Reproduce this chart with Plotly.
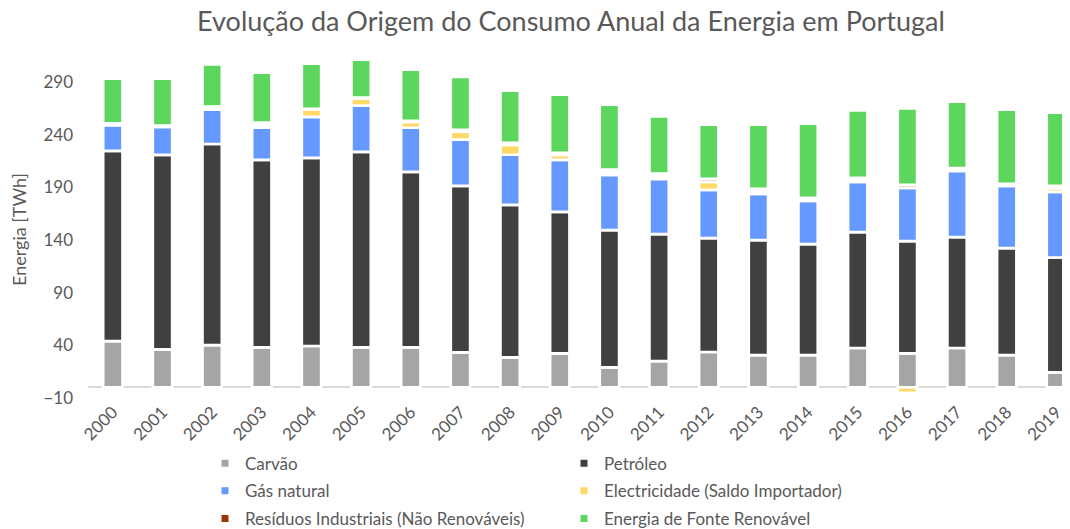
import plotly.graph_objects as go

years = [str(y) for y in range(2000, 2020)]
carvao = [44.1, 36.1, 40.3, 38.0, 39.4, 38.0, 38.0, 33.3, 28.6, 32.4, 19.1, 25.1, 33.7, 30.8, 30.8, 37.5, 32.4, 37.5, 30.8, 14.3]
petroleo = [180.5, 184.7, 190.9, 178.1, 178.6, 185.7, 166.7, 158.1, 144.8, 134.3, 130.3, 120.5, 108.1, 109.1, 105.3, 110.0, 106.6, 105.2, 101.5, 109.1]
gas_natural = [24.4, 26.6, 32.6, 30.6, 39.0, 43.9, 41.9, 43.9, 47.6, 49.4, 52.4, 52.4, 45.8, 43.9, 41.1, 47.7, 50.5, 62.9, 59.1, 62.3]
electricidade = [0.5, 0.3, 1.2, 2.2, 7.0, 6.6, 5.6, 7.5, 9.4, 4.7, 2.5, 2.5, 7.6, 2.2, 0.8, 1.6, -5.0, 0.6, 0.2, 3.5]
residuos = [1.4, 0.9, 1.6, 2.5, 0.6, 1.0, 1.0, 1.9, 1.9, 1.9, 2.5, 2.5, 2.8, 2.5, 2.0, 2.2, 2.8, 2.2, 1.7, 2.2]
renovavel = [42.3, 44.6, 40.2, 47.5, 42.9, 36.1, 48.6, 50.2, 49.6, 55.4, 61.8, 54.5, 51.6, 61.1, 70.6, 64.2, 72.8, 63.0, 70.5, 69.6]

y_ticks = [-10, 40, 90, 140, 190, 240, 290]

series = [
    ("Carvão", carvao, "#A5A5A5", "legend"),
    ("Petróleo", petroleo, "#404040", "legend2"),
    ("Gás natural", gas_natural, "#6699FF", "legend"),
    ("Electricidade (Saldo Importador)", electricidade, "#FFD966", "legend2"),
    ("Resíduos Industriais (Não Renováveis)", residuos, "#9C3408", "legend"),
    ("Energia de Fonte Renovável", renovavel, "#5CD65C", "legend2"),
]

FONT = "Lato"
TXT = "#595959"

# page body adds an 8px offset; layout below compensates for it
L, T = 80, 53
PW, PH = 990, 337.3
B = 529 - T - PH

fig = go.Figure()
for name, vals, col, _ in series:
    fig.add_trace(go.Bar(
        x=years, y=vals, name=name, showlegend=False,
        marker=dict(color=col, line=dict(color="white", width=2.7)),
    ))

for i, (name, vals, col, lg) in enumerate(series):
    fig.add_trace(go.Scatter(
        x=[None], y=[None], mode="markers", name=name,
        marker=dict(symbol="square", size=7, color=col),
        legend=lg, legendgroup="g%d" % i, showlegend=True,
    ))

leg_y = -(438 - (T + PH)) / PH

fig.update_layout(
    width=1070, height=529,
    barmode="relative", bargap=0.61,
    paper_bgcolor="white", plot_bgcolor="white",
    margin=dict(l=L, r=0, t=T, b=B, autoexpand=False),
    font=dict(family=FONT, size=17, color=TXT),
    title=dict(text="Evolução da Origem do Consumo Anual da Energia em Portugal",
               x=563 / 1070, xanchor="center", xref="container",
               y=1 - 14 / 529, yref="container", yanchor="middle",
               font=dict(family=FONT, size=27, color=TXT)),
    xaxis=dict(type="category", range=[-0.5, 19.435], tickangle=-45,
               showline=False, showgrid=False, ticks="", automargin=False,
               tickfont=dict(family=FONT, size=17, color=TXT)),
    yaxis=dict(range=[-10, 310], tickvals=y_ticks, showgrid=False,
               showline=False, zeroline=True, zerolinecolor="#D9D9D9",
               zerolinewidth=1.5, ticks="", ticklabelstandoff=14, automargin=False,
               tickfont=dict(family=FONT, size=17, color=TXT),
               title=dict(text="Energia [TWh]", standoff=12,
                          font=dict(family=FONT, size=18, color=TXT))),
    legend=dict(x=(197 - L) / PW, xanchor="left", y=leg_y, yanchor="top",
                orientation="v", tracegroupgap=2.5, bgcolor="rgba(0,0,0,0)",
                font=dict(family=FONT, size=17, color=TXT)),
    legend2=dict(x=(556 - L) / PW, xanchor="left", y=leg_y, yanchor="top",
                 orientation="v", tracegroupgap=2.5, bgcolor="rgba(0,0,0,0)",
                 font=dict(family=FONT, size=17, color=TXT)),
)

fig.write_html("out.html")
